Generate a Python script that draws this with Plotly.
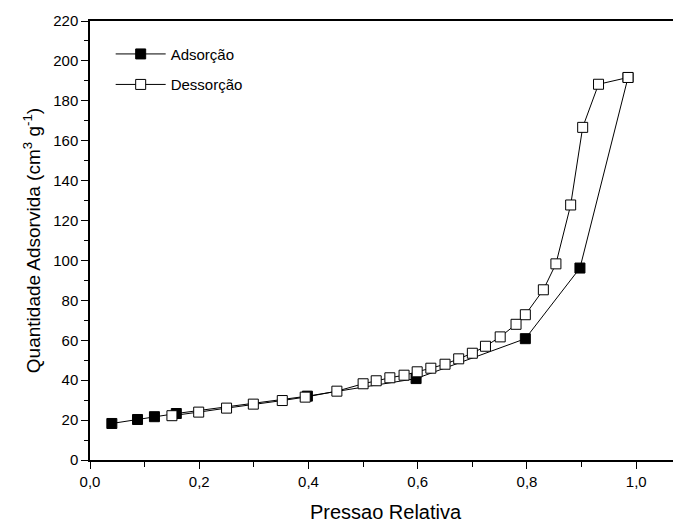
import plotly.graph_objects as go

# Adsorption branch (filled squares)
ads_x = [0.040, 0.087, 0.118, 0.158, 0.398, 0.597, 0.797, 0.897, 0.985]
ads_y = [18.3, 20.3, 21.7, 23.3, 32.0, 40.8, 60.8, 96.2, 191.7]

# Desorption branch (open squares)
des_x = [0.985, 0.931, 0.902, 0.880, 0.853, 0.830, 0.797, 0.780, 0.751, 0.724,
         0.700, 0.675, 0.650, 0.624, 0.599, 0.575, 0.549, 0.524, 0.500, 0.452,
         0.394, 0.352, 0.299, 0.250, 0.199, 0.150]
des_y = [191.7, 188.3, 166.7, 127.8, 98.3, 85.3, 72.8, 68.0, 61.7, 57.0,
         53.5, 50.7, 48.0, 46.0, 44.2, 42.5, 41.2, 39.7, 38.2, 34.5,
         31.5, 29.8, 28.0, 26.0, 24.0, 22.2]

x_ticks = [0.0, 0.2, 0.4, 0.6, 0.8, 1.0]
x_ticklabels = ["0,0", "0,2", "0,4", "0,6", "0,8", "1,0"]
y_ticks = list(range(0, 221, 20))

FONT = "Arial, Liberation Sans, sans-serif"

fig = go.Figure()
fig.add_trace(go.Scatter(
    x=ads_x, y=ads_y, mode="lines+markers", name="Adsorção", legendgroup="a",
    line=dict(color="black", width=1),
    marker=dict(symbol="square", size=10, color="black",
                line=dict(color="black", width=1)),
))
fig.add_trace(go.Scatter(
    x=des_x, y=des_y, mode="lines+markers", name="Dessorção", legendgroup="d",
    line=dict(color="black", width=1),
    marker=dict(symbol="square", size=10, color="white",
                line=dict(color="black", width=1)),
))

# page body adds an 8px margin; the figure is sized so the page matches 681x524
fig.update_layout(
    width=673, height=516,
    margin=dict(l=82, r=0, t=13, b=64),
    paper_bgcolor="white", plot_bgcolor="white",
    font=dict(family=FONT, color="black", size=15),
    showlegend=True,
    legend=dict(x=0.035, y=0.962, xanchor="left", yanchor="top",
                bgcolor="rgba(0,0,0,0)", font=dict(size=15, family=FONT),
                tracegroupgap=8, itemwidth=50),
)
fig.update_xaxes(
    range=[0, 1.082], tickvals=x_ticks, ticktext=x_ticklabels,
    ticks="outside", ticklen=7, tickwidth=1.2, tickcolor="black",
    minor=dict(dtick=0.1, ticks="outside", ticklen=5, tickwidth=1.2, tickcolor="black"),
    showline=True, linecolor="black", linewidth=2, mirror=True,
    showgrid=False, zeroline=False,
    tickfont=dict(size=15, family=FONT),
    title=dict(text="Pressao Relativa", font=dict(size=20, family=FONT), standoff=16),
)
fig.update_yaxes(
    range=[0, 220], tickvals=y_ticks,
    ticks="outside", ticklen=7, tickwidth=1.2, tickcolor="black",
    minor=dict(dtick=10, ticks="outside", ticklen=4, tickwidth=1.2, tickcolor="black"),
    showline=True, linecolor="black", linewidth=1.5, mirror=False,
    showgrid=False, zeroline=False,
    tickfont=dict(size=15, family=FONT),
    title=dict(text="Quantidade Adsorvida (cm<sup>3</sup> g<sup>-1</sup>)",
               font=dict(size=19, family=FONT), standoff=8),
)

fig.write_html("out.html")
